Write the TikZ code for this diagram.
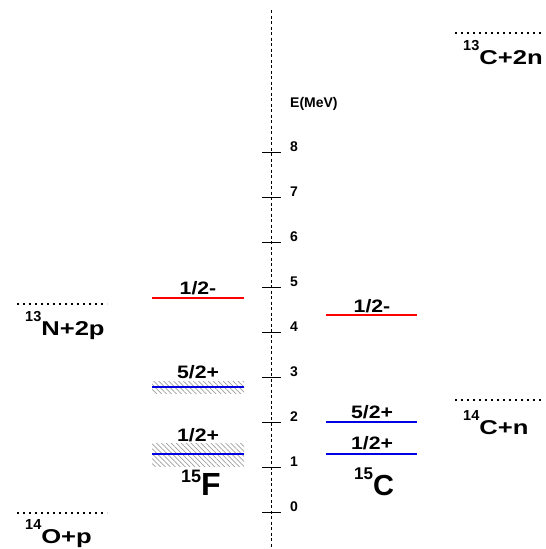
\documentclass[tikz,border=0pt]{standalone}
\usepackage{graphicx}
\usepackage{fontspec}
\setmainfont{Liberation Sans}
\usetikzlibrary{patterns.meta}
\definecolor{lvlblue}{RGB}{0,0,225}
\newcommand\isolbl[6]{\raisebox{#5}{\fontsize{#3}{#3}\selectfont #1}\scalebox{#6}[1]{\fontsize{#4}{#4}\selectfont #2}}
\newcommand\spintxt[1]{\scalebox{1.18}[1]{#1}}
\tikzset{
  lvlred/.style={draw=red, line width=2pt},
  lvlblue/.style={draw=lvlblue, line width=2pt},
  thr/.style={line width=2pt, dash pattern=on 2pt off 4pt},
  hatch/.style={pattern={Lines[angle=-45,distance=3.5pt,line width=0.7pt]}, pattern color=gray!75},
  spin/.style={font=\bfseries\fontsize{18}{18}\selectfont, inner sep=0pt, anchor=base},
  ticklbl/.style={font=\bfseries\fontsize{14}{14}\selectfont, inner sep=0pt, anchor=base west},
  iso/.style={font=\bfseries, inner sep=0pt, anchor=base west},
}
\begin{document}
\begin{tikzpicture}[x=1pt,y=-1pt]
\useasboundingbox (0,0) rectangle (546,549);
% axis
\coordinate (axtop) at (271,10);
\coordinate (axbot) at (271,549);
\draw[line width=0.8pt, dash pattern=on 3pt off 2.5pt] (axtop) -- (axbot);
\foreach \e in {0,...,8}{
  \coordinate (tl\e) at (262,512-45*\e);
  \coordinate (tr\e) at (281,512-45*\e);
  \draw[line width=0.8pt] (tl\e) -- (tr\e);
  \node[ticklbl] (tk\e) at (290,511-45*\e) {\e};
}
\node[font=\bfseries\fontsize{14}{14}\selectfont, inner sep=0pt, anchor=base west] (elbl) at (290,107) {E(MeV)};
% 15F levels
\fill[hatch] (152,381) rectangle (244,393);
\fill[hatch] (152,443) rectangle (244,466);
\coordinate (fa1) at (152,298); \coordinate (fb1) at (244,298);
\coordinate (fa2) at (152,387); \coordinate (fb2) at (244,387);
\coordinate (fa3) at (152,454); \coordinate (fb3) at (244,454);
\draw[lvlred] (fa1) -- (fb1);
\draw[lvlblue] (fa2) -- (fb2);
\draw[lvlblue] (fa3) -- (fb3);
\node[spin] (fs1) at (198,294) {\spintxt{1/2-}};
\node[spin] (fs2) at (198,378) {\spintxt{5/2+}};
\node[spin] (fs3) at (198,441) {\spintxt{1/2+}};
\node[iso] (fname) at (181,495) {\isolbl{15}{F}{18}{32}{13pt}{1}};
% 15C levels
\coordinate (ca1) at (326,315); \coordinate (cb1) at (417,315);
\coordinate (ca2) at (326,422); \coordinate (cb2) at (417,422);
\coordinate (ca3) at (326,454); \coordinate (cb3) at (417,454);
\draw[lvlred] (ca1) -- (cb1);
\draw[lvlblue] (ca2) -- (cb2);
\draw[lvlblue] (ca3) -- (cb3);
\node[spin] (cs1) at (372,312) {\spintxt{1/2-}};
\node[spin] (cs2) at (372,418) {\spintxt{5/2+}};
\node[spin] (cs3) at (372,449) {\spintxt{1/2+}};
\node[iso] (cname) at (354,495) {\isolbl{15}{C}{17}{29}{16pt}{1}};
% thresholds
\coordinate (n1) at (17,304); \coordinate (n2) at (107,304);
\draw[thr] (n1) -- (n2);
\node[iso] (nlbl) at (25,335) {\isolbl{13}{N+2p}{14.5}{20}{13.5pt}{1.28}};
\coordinate (o1) at (17,513); \coordinate (o2) at (107,513);
\draw[thr] (o1) -- (o2);
\node[iso] (olbl) at (25,543) {\isolbl{14}{O+p}{14.5}{20}{13.5pt}{1.28}};
\coordinate (c1) at (455,33); \coordinate (c2) at (542,33);
\draw[thr] (c1) -- (c2);
\node[iso] (clbl) at (463,64) {\isolbl{13}{C+2n}{14.5}{20}{13.5pt}{1.28}};
\coordinate (d1) at (455,400); \coordinate (d2) at (542,400);
\draw[thr] (d1) -- (d2);
\node[iso] (dlbl) at (463,434) {\isolbl{14}{C+n}{14.5}{20}{13.5pt}{1.28}};
\end{tikzpicture}
\end{document}
